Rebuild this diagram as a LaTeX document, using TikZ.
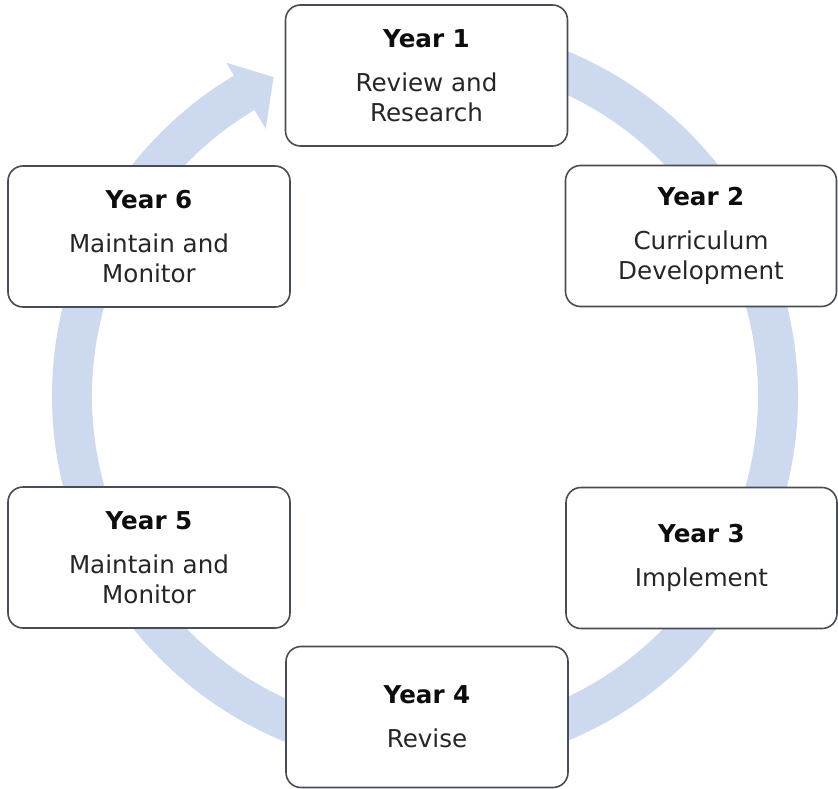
\documentclass[tikz,border=0pt]{standalone}
\usepackage{fontspec}
\setmainfont{DejaVu Sans}
\usepackage{tikz}
\usetikzlibrary{calc,positioning}
\definecolor{ringblue}{RGB}{205,217,238}
\definecolor{boxline}{RGB}{72,76,86}
\tikzset{
    state/.style ={rectangle, draw=boxline, line width=0.8pt, fill=white, rounded corners=7.5pt,
                   minimum height=70.5pt, inner sep=0pt, align=center, text=black!85,
                   font=\fontsize{12.3}{15}\selectfont},
    wide/.style = {minimum width=141pt},
    narrow/.style = {minimum width=135.5pt},
    ring/.style = {fill=ringblue}
}
\newcommand{\yr}[1]{\textbf{\color{black!95}Year #1}\\[7pt]}

\begin{document}
\begin{tikzpicture}[x=0.5pt,y=0.5pt]
 \useasboundingbox (0,0) rectangle (838,788);
 \coordinate (c) at (425,392);

    % cycle arrow behind the boxes
    \begin{scope}[shift={(c)}]
    \fill[ring] (100:373) arc (100:-239.2:373) -- (120.8:388) -- (115.4:353)
        -- (120.8:311) -- (120.8:333) arc (-239.2:100:333) -- cycle;
    \end{scope}

 \node[state, wide] (y1) at (426.5,712.5) {\yr{1}Review and\\Research};
    \node[state, narrow] (y2) at (701,552) {\yr{2}Curriculum\\Development};
    \node[state, narrow] (y3) at (701.5,230) {\yr{3}Implement};
    \node[state, wide] (y4) at (427,71) {\yr{4}Revise};
    \node[state, wide] (y5) at (149,230.5) {\yr{5}Maintain and\\Monitor};
    \node[state, wide] (y6) at (149,551.5) {\yr{6}Maintain and\\Monitor};

\end{tikzpicture}
\end{document}
